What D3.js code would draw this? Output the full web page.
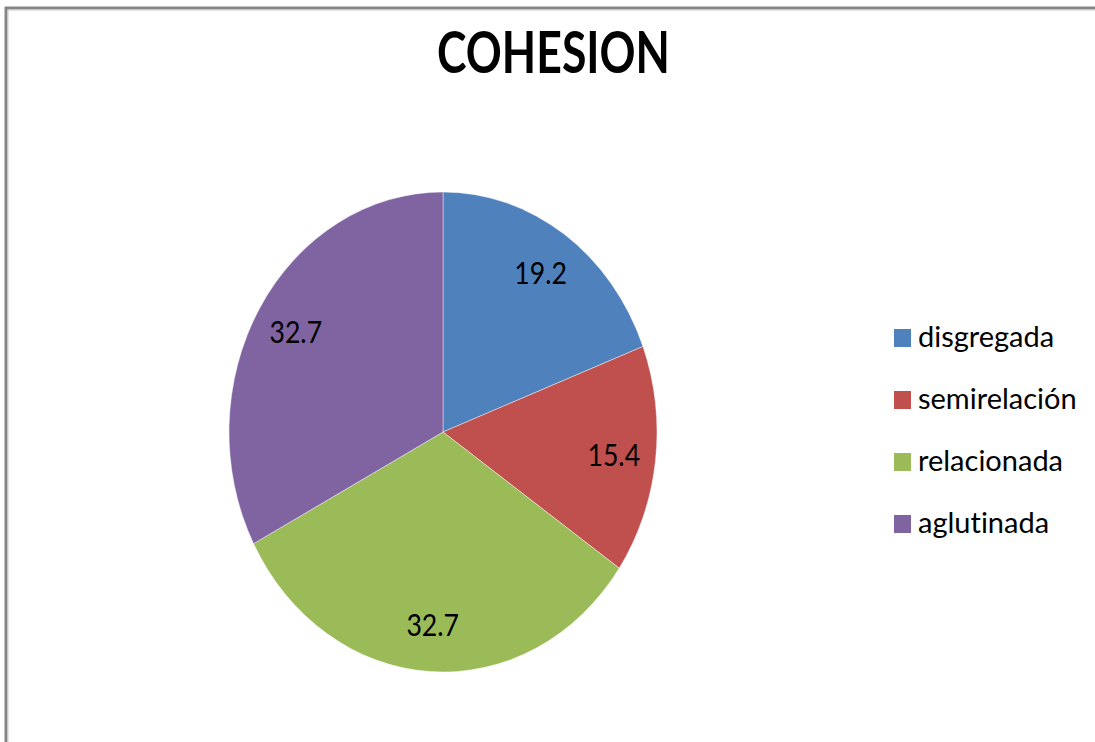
<!DOCTYPE html>
<html>
<head>
<meta charset="utf-8">
<script src="https://cdn.jsdelivr.net/npm/d3@7"></script>
<style>
  html, body { margin: 0; padding: 0; background: #ffffff; }
  svg { display: block; }
  text { font-variant-ligatures: none; }
</style>
</head>
<body>
<svg id="chart" width="1095" height="742"></svg>
<script>
// Cohesion distribution (percent)
const categories = ["disgregada", "semirelación", "relacionada", "aglutinada"];
const values = [19.2, 15.4, 32.7, 32.7];
const colors = ["#4F81BD", "#C0504D", "#9BBB59", "#8064A2"];
const title = "COHESION";

const svg = d3.select("#chart");
const W = 1095, H = 742;

// frame
svg.append("line").attr("x1", 5).attr("x2", W).attr("y1", 8).attr("y2", 8)
  .attr("stroke", "#858585").attr("stroke-width", 3);
svg.append("line").attr("x1", 5).attr("x2", W).attr("y1", 10).attr("y2", 10)
  .attr("stroke", "#c8c8c8").attr("stroke-width", 1);
svg.append("line").attr("x1", 6).attr("x2", 6).attr("y1", 7).attr("y2", H)
  .attr("stroke", "#858585").attr("stroke-width", 3);
svg.append("line").attr("x1", 8).attr("x2", 8).attr("y1", 10).attr("y2", H)
  .attr("stroke", "#c8c8c8").attr("stroke-width", 1);

// title
svg.append("text")
  .attr("x", 437).attr("y", 73)
  .attr("font-family", "Lato, 'Open Sans', sans-serif")
  .attr("font-weight", "bold")
  .attr("font-size", 57)
  .attr("textLength", 233)
  .attr("lengthAdjust", "spacingAndGlyphs")
  .attr("fill", "#000")
  .text(title);

// pie (drawn slightly taller than wide)
const cx = 443, cy = 432, rx = 214, ry = 240;
const sy = ry / rx;
const pie = d3.pie().sort(null).value(d => d)(values);
const arc = d3.arc().innerRadius(0).outerRadius(rx);
const labelArc = d3.arc().innerRadius(172).outerRadius(172);

const g = svg.append("g").attr("transform", `translate(${cx},${cy}) scale(1,${sy})`);
g.selectAll("path")
  .data(pie)
  .join("path")
  .attr("d", arc)
  .attr("fill", (d, i) => colors[i])
  .attr("stroke", "rgba(255,255,255,0.5)")
  .attr("stroke-width", 0.8);

// value labels
const labelScaleX = 0.86;
svg.selectAll("text.val")
  .data(pie)
  .join("text")
  .attr("class", "val")
  .attr("transform", d => {
    const [x, y] = labelArc.centroid(d);
    return `translate(${cx + x},${cy + y * sy}) scale(${labelScaleX},1)`;
  })
  .attr("text-anchor", "middle")
  .attr("dy", "0.36em")
  .attr("font-family", "Lato, 'Open Sans', sans-serif")
  .attr("font-size", 31)
  .attr("fill", "#000")
  .text(d => d.data.toFixed(1));

// legend
const legendY = d3.scalePoint().domain(categories).range([338, 524]);
const lg = svg.append("g");
const rows = lg.selectAll("g")
  .data(categories)
  .join("g")
  .attr("transform", d => `translate(894,${legendY(d)})`);
rows.append("rect")
  .attr("x", 0).attr("y", -9).attr("width", 17).attr("height", 18)
  .attr("fill", (d, i) => colors[i]);
rows.append("text")
  .attr("transform", "translate(24,9)")
  .attr("font-family", "Lato, 'Open Sans', sans-serif")
  .attr("font-size", 29)
  .attr("fill", "#000")
  .text(d => d);
</script>
</body>
</html>
